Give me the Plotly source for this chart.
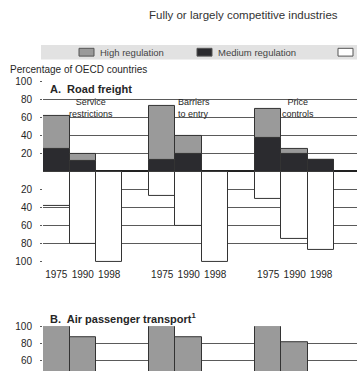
import plotly.graph_objects as go

# ---------------- data ----------------
groups = ["Service restrictions", "Barriers to entry", "Price controls"]
years = ["1975", "1990", "1998"]

# Panel A: Road freight (% of OECD countries)
road_high = [37, 7, 0, 60, 20, 0, 32, 6, 0]
road_medium = [25, 12, 0, 13, 20, 0, 37, 19, 13]
road_competitive = [38, 81, 100, 27, 60, 100, 31, 75, 87]

# Panel B: Air passenger transport (only upper part visible)
air_high = [100, 87, None, 100, 87, None, 100, 82, None]

a_tick_vals = [100, 80, 60, 40, 20, -20, -40, -60, -80, -100]
a_tick_text = ["100", "80", "60", "40", "20", "20", "40", "60", "80", "100"]
b_tick_vals = [100, 80, 60]

# ---------------- styling ----------------
W, H = 357, 376
NARROW = "Liberation Sans Narrow, Arial Narrow, Liberation Sans, Arial, sans-serif"
REG = "Liberation Sans, Arial, sans-serif"
C_HIGH = "#9a9a9a"
C_MED = "#2b2b2f"
C_LINE = "#333333"
C_GRID = "#5a5a5a"
TXT = "#262626"

def px_x(p):
    return p / W

def px_y(p):
    return 1 - p / H

slots_per_group = len(years) + 1
xpos = [g * slots_per_group + j for g in range(len(groups)) for j in range(len(years))]
xlabels = [years[j] for g in range(len(groups)) for j in range(len(years))]

x_domain = [px_x(43), 1.0]
x_range = [-0.5, 11.35]

fig = go.Figure()

bar_line = dict(color=C_LINE, width=1)
fig.add_trace(go.Bar(x=xpos, y=road_medium, marker=dict(color=C_MED, line=bar_line),
                     width=1, name="Medium regulation", xaxis="x", yaxis="y"))
fig.add_trace(go.Bar(x=xpos, y=road_high, marker=dict(color=C_HIGH, line=bar_line),
                     width=1, name="High regulation", xaxis="x", yaxis="y"))
fig.add_trace(go.Bar(x=xpos, y=[-v for v in road_competitive],
                     marker=dict(color="white", line=bar_line),
                     width=1, name="Fully or largely competitive", xaxis="x", yaxis="y"))

fig.add_trace(go.Bar(x=xpos, y=air_high, marker=dict(color=C_HIGH, line=bar_line),
                     width=1, name="High regulation (air)", xaxis="x2", yaxis="y2"))

axis_font = dict(family=NARROW, size=10, color=TXT)

fig.update_layout(
    width=W, height=H, autosize=False,
    margin=dict(l=0, r=0, t=0, b=0),
    paper_bgcolor="white", plot_bgcolor="white",
    showlegend=False,
    barmode="relative", bargap=0,
    xaxis=dict(domain=x_domain, range=x_range, anchor="y",
               tickmode="array", tickvals=xpos, ticktext=xlabels,
               tickfont=axis_font, showgrid=False, zeroline=False,
               showline=False, ticks="", ticklabelstandoff=5),
    yaxis=dict(domain=[px_y(264), px_y(78)], range=[-100.6, 100.6], anchor="x",
               tickmode="array", tickvals=a_tick_vals, ticktext=a_tick_text,
               tickfont=axis_font, showgrid=True, gridcolor=C_GRID, gridwidth=1,
               zeroline=True, zerolinecolor="#222222", zerolinewidth=1.5,
               ticks="outside", ticklen=2, tickcolor=C_GRID, ticklabelstandoff=6,
               showline=False),
    xaxis2=dict(domain=x_domain, range=x_range, anchor="y2",
                showticklabels=False, showgrid=False, zeroline=False, ticks=""),
    yaxis2=dict(domain=[0, px_y(330)], range=[47.7, 100.4], anchor="x2",
                tickmode="array", tickvals=b_tick_vals,
                tickfont=axis_font, showgrid=True, gridcolor=C_GRID, gridwidth=1,
                zeroline=False, ticks="outside", ticklen=2, tickcolor=C_GRID,
                ticklabelstandoff=6, showline=False),
)

shapes = []
ann = []

# legend band
shapes.append(dict(type="rect", xref="paper", yref="paper",
                   x0=px_x(41), x1=1.0, y0=px_y(56), y1=px_y(41),
                   fillcolor="#e2e2e2", line=dict(width=0), layer="below"))
legend_items = [
    (C_HIGH, 79, "High regulation"),
    (C_MED, 197, "Medium regulation"),
    ("white", 338, ""),
]
for col, x0, label in legend_items:
    shapes.append(dict(type="rect", xref="paper", yref="paper",
                       x0=px_x(x0), x1=px_x(x0 + 15), y0=px_y(52.5), y1=px_y(44.5),
                       fillcolor=col, line=dict(color="#555555", width=1)))
    if label:
        ann.append(dict(text=label, xref="paper", yref="paper",
                        x=px_x(x0 + 19), y=px_y(48.5), xanchor="left", yanchor="middle",
                        showarrow=False, font=dict(family=NARROW, size=9.5, color="#444444")))

# header over the third legend item
ann.append(dict(text="Fully or largely competitive industries", xref="paper", yref="paper",
                x=px_x(243), y=px_y(10.5), xanchor="center", yanchor="middle",
                showarrow=False, font=dict(family=REG, size=11.5, color="#333333")))

ann.append(dict(text="Percentage of OECD countries", xref="paper", yref="paper",
                x=px_x(8), y=px_y(66), xanchor="left", yanchor="middle",
                showarrow=False, font=dict(family=NARROW, size=10, color=TXT)))

ann.append(dict(text="A.  Road freight", xref="paper", yref="paper",
                x=px_x(48), y=px_y(86.5), xanchor="left", yanchor="middle",
                showarrow=False, font=dict(family=NARROW, size=11, color=TXT, weight="bold")))

ann.append(dict(text="B.  Air passenger transport<sup>1</sup>", xref="paper", yref="paper",
                x=px_x(48), y=px_y(322), xanchor="left", yanchor="middle",
                showarrow=False, font=dict(family=NARROW, size=11, color=TXT, weight="bold")))

# group labels (two lines each)
group_label_text = ["Service<br>restrictions", "Barriers<br>to entry", "Price<br>controls"]
group_label_pos = [(91, "center"), (177, "left"), (298, "center")]
for txt, (gx, anchor) in zip(group_label_text, group_label_pos):
    ann.append(dict(text=txt, xref="paper", yref="paper",
                    x=px_x(gx), y=px_y(106), xanchor=anchor, yanchor="middle",
                    align="center" if anchor == "center" else "left",
                    showarrow=False, borderpad=0,
                    font=dict(family=NARROW, size=9, color=TXT)))

fig.update_layout(shapes=shapes, annotations=ann)
fig.write_html("out.html")
